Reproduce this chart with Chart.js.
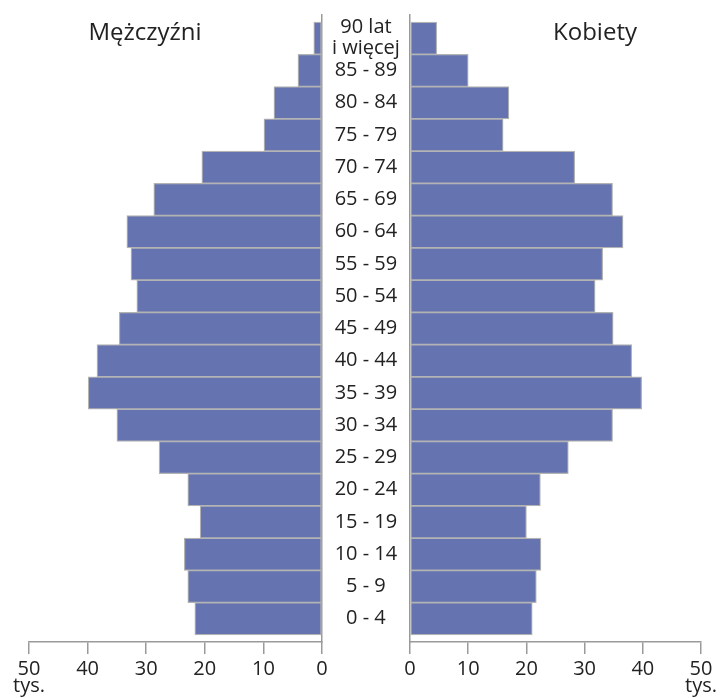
<!DOCTYPE html>
<html>
<head>
<meta charset="utf-8">
<script src="https://cdn.jsdelivr.net/npm/chart.js@4/dist/chart.umd.min.js"></script>
<style>
  html, body { margin: 0; padding: 0; background: #fff; }
  #wrap { position: relative; width: 724px; height: 698px; overflow: hidden; }
  canvas { position: absolute; top: 0; }
  #cLeft { left: 0; }
  #cRight { left: 366px; }
  .ttl { position: absolute; top: 19px; font: 24px "Open Sans", sans-serif; line-height: 24px; color: #222; transform: translateX(-50%); white-space: nowrap; }
</style>
</head>
<body>
<div id="wrap">
  <canvas id="cLeft" width="410" height="698"></canvas>
  <canvas id="cRight" width="358" height="698"></canvas>
  <div class="ttl" style="left:145px">Mężczyźni</div>
  <div class="ttl" style="left:595px">Kobiety</div>
</div>
<script>
// Age groups, bottom (youngest) to top (oldest)
const ageGroups = ['0 - 4','5 - 9','10 - 14','15 - 19','20 - 24','25 - 29','30 - 34','35 - 39','40 - 44',
  '45 - 49','50 - 54','55 - 59','60 - 64','65 - 69','70 - 74','75 - 79','80 - 84','85 - 89',['90 lat','i więcej']];
// Men, thousands
const men = [21.7, 22.9, 23.5, 20.8, 22.9, 27.8, 35.0, 39.9, 38.4, 34.6, 31.6, 32.6, 33.3, 28.7, 20.5, 9.9, 8.2, 4.1, 1.4];
// Women, thousands
const women = [21.0, 21.7, 22.5, 20.0, 22.4, 27.2, 34.8, 39.8, 38.1, 34.9, 31.8, 33.1, 36.6, 34.8, 28.3, 16.0, 17.0, 10.0, 4.6];
// X axis ticks
const xTicks = [0, 10, 20, 30, 40, 50];
const unitLabel = 'tys.';

const FONT = '"Open Sans", sans-serif';
const BAR = '#6574b0';
const BARBORDER = '#b3b3b3';
const LINE = '#9a9a9a';
const TEXT = '#222';

function points(arr) { return arr.map((v, i) => ({ x: v, y: i })); }
const yTickValues = ageGroups.map((_, i) => ({ value: i }));

function xAxis(reverse) {
  return {
    type: 'linear', min: 0, max: 50, reverse: reverse, bounds: 'data', offset: false,
    afterBuildTicks: s => { s.ticks = xTicks.map(v => ({ value: v })); },
    afterFit: s => { s.height = 56; },
    ticks: {
      autoSkip: false, maxRotation: 0, padding: 7, color: TEXT,
      font: { family: FONT, size: 20, lineHeight: 0.85 },
      callback: v => v === 50 ? [String(v), unitLabel] : String(v)
    },
    grid: { display: true, drawOnChartArea: false, drawTicks: true, tickLength: 12, color: LINE, lineWidth: 1.5, offset: false },
    border: { display: true, color: LINE, width: 1.5 }
  };
}

const yRange = { min: -0.72, max: 18.72 };

function dataset(arr) {
  return {
    data: points(arr),
    backgroundColor: BAR, borderColor: BARBORDER, borderWidth: 1.2, borderSkipped: false,
    categoryPercentage: 1.0, barPercentage: 1.0
  };
}

const common = {
  responsive: false, animation: false, indexAxis: 'y',
  plugins: { legend: { display: false }, tooltip: { enabled: false }, title: { display: false } }
};

new Chart(document.getElementById('cLeft'), {
  type: 'bar',
  data: { datasets: [dataset(men)] },
  options: Object.assign({}, common, {
    layout: { padding: { left: 29, right: 0, top: 15, bottom: 0 } },
    scales: {
      x: xAxis(true),
      y: {
        type: 'linear', position: 'right', min: yRange.min, max: yRange.max, bounds: 'data', offset: false,
        afterBuildTicks: s => { s.ticks = yTickValues.map(t => ({ value: t.value })); },
        afterFit: s => { s.width = 88; s.paddingTop = 0; s.paddingBottom = 0; },
        ticks: {
          autoSkip: false, crossAlign: 'center', padding: 10,
          color: TEXT, font: { family: FONT, size: 20, lineHeight: 1.05 },
          callback: v => ageGroups[v]
        },
        grid: { display: false, drawTicks: false, offset: false },
        border: { display: true, color: LINE, width: 1.5 }
      }
    }
  })
});

new Chart(document.getElementById('cRight'), {
  type: 'bar',
  data: { datasets: [dataset(women)] },
  options: Object.assign({}, common, {
    layout: { padding: { left: 44, right: 22, top: 15, bottom: 0 } },
    scales: {
      x: xAxis(false),
      y: {
        type: 'linear', position: 'left', min: yRange.min, max: yRange.max, bounds: 'data', offset: false,
        afterBuildTicks: s => { s.ticks = yTickValues.map(t => ({ value: t.value })); },
        afterFit: s => { s.width = 0; s.paddingTop = 0; s.paddingBottom = 0; },
        ticks: { display: false },
        grid: { display: false, drawTicks: false, offset: false },
        border: { display: true, color: LINE, width: 1.5 }
      }
    }
  })
});
</script>
</body>
</html>
